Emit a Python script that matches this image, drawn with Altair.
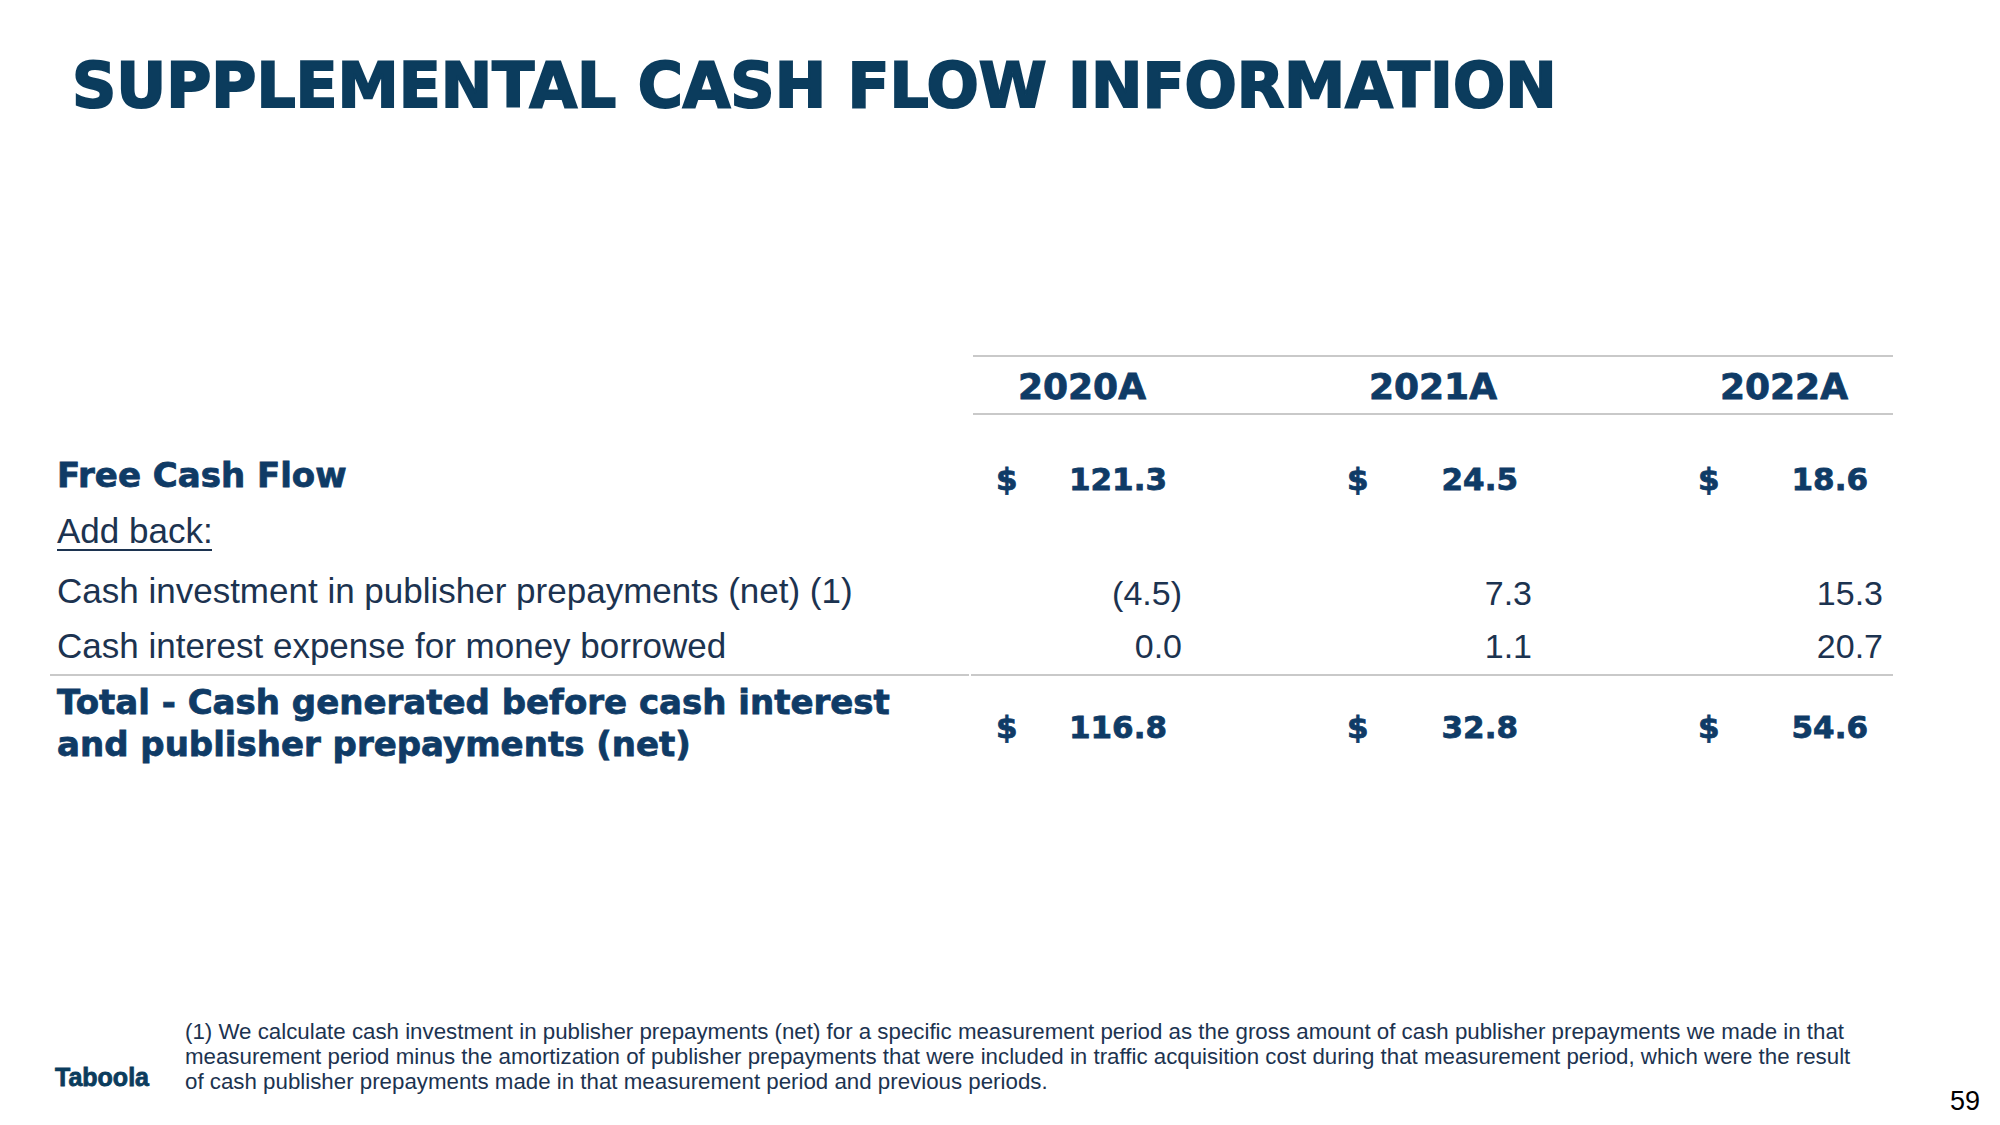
import altair as alt
import pandas as pd

# ---------------- data ----------------
title_text = "SUPPLEMENTAL CASH FLOW INFORMATION"
years = ["2020A", "2021A", "2022A"]
free_cash_flow = [121.3, 24.5, 18.6]
prepayments_net = [-4.5, 7.3, 15.3]
interest_expense = [0.0, 1.1, 20.7]
total_cash = [116.8, 32.8, 54.6]

label_fcf = "Free Cash Flow"
label_addback = "Add back:"
label_prepay = "Cash investment in publisher prepayments (net) (1)"
label_interest = "Cash interest expense for money borrowed"
label_total = ["Total - Cash generated before cash interest",
               "and publisher prepayments (net)"]

footnote_lines = [
    "(1) We calculate cash investment in publisher prepayments (net) for a specific measurement period as the gross amount of cash publisher prepayments we made in that",
    "measurement period minus the amortization of publisher prepayments that were included in traffic acquisition cost during that measurement period, which were the result",
    "of cash publisher prepayments made in that measurement period and previous periods.",
]
logo_text = "Taboola"
page_number = "59"

# ---------------- layout (page pixels) ----------------
W, H = 1984, 1109
XS = alt.Scale(domain=[8, 8 + W], range=[0, W])
YS = alt.Scale(domain=[8, 8 + H], range=[0, H])

TITLE_C = "#0b3c5d"
BOLD_C = "#0f3b66"
REG_C = "#1c3350"
RULE_C = "#c9c9c9"

LABEL_X = 57
header_cx = [1082, 1433, 1784]
dollar_x = [996, 1347, 1698]
value_rx = [1167, 1518, 1868]
reg_rx = [1182, 1532, 1883]

Y_HEADER = 399
Y_FCF = 490
Y_ADD = 543
Y_PREPAY = 605
Y_INTEREST = 658
Y_TOTAL1 = 714
Y_TOTAL2 = 756
Y_TOTALV = 738


def fmt(v):
    return f"({abs(v):.1f})" if v < 0 else f"{v:.1f}"


def text_layer(df, font, size, weight, color, align="left", stroke_w=0):
    kw = dict(font=font, fontSize=size, fontWeight=weight, color=color,
              align=align, baseline="alphabetic")
    if stroke_w > 0:
        kw.update(stroke=color, strokeWidth=stroke_w)
    return alt.Chart(df).mark_text(**kw).encode(
        x=alt.X("x:Q", scale=XS, axis=None),
        y=alt.Y("y:Q", scale=YS, axis=None),
        text="t:N",
    )


title_df = pd.DataFrame({"t": [title_text], "x": [72], "y": [107]})

bold_labels = pd.DataFrame({
    "t": [label_fcf] + label_total,
    "x": [LABEL_X] * 3,
    "y": [Y_FCF - 3, Y_TOTAL1, Y_TOTAL2],
})
reg_labels = pd.DataFrame({
    "t": [label_addback, label_prepay, label_interest],
    "x": [LABEL_X] * 3,
    "y": [Y_ADD, Y_PREPAY - 2, Y_INTEREST],
})

header_df = pd.DataFrame({"t": years, "x": header_cx, "y": [Y_HEADER] * 3})

dollar_df = pd.DataFrame({
    "t": ["$"] * 6,
    "x": dollar_x * 2,
    "y": [Y_FCF] * 3 + [Y_TOTALV] * 3,
})
bold_vals = pd.DataFrame({
    "t": [fmt(v) for v in free_cash_flow] + [fmt(v) for v in total_cash],
    "x": value_rx * 2,
    "y": [Y_FCF] * 3 + [Y_TOTALV] * 3,
})
reg_vals = pd.DataFrame({
    "t": [fmt(v) for v in prepayments_net] + [fmt(v) for v in interest_expense],
    "x": reg_rx * 2,
    "y": [Y_PREPAY] * 3 + [Y_INTEREST] * 3,
})

foot_df = pd.DataFrame({
    "t": footnote_lines,
    "x": [185] * 3,
    "y": [1039, 1064, 1089],
})
logo_df = pd.DataFrame({"t": [logo_text], "x": [55], "y": [1086]})
page_df = pd.DataFrame({"t": [page_number], "x": [1980], "y": [1110]})

rules_df = pd.DataFrame({
    "x": [973, 973, 50, 971],
    "x2": [1893, 1893, 969, 1893],
    "y": [356, 414, 675, 675],
})
underline_df = pd.DataFrame({"x": [57], "x2": [212], "y": [550]})

rules = alt.Chart(rules_df).mark_rule(color=RULE_C, strokeWidth=2).encode(
    x=alt.X("x:Q", scale=XS, axis=None),
    x2="x2:Q",
    y=alt.Y("y:Q", scale=YS, axis=None),
)
underline = alt.Chart(underline_df).mark_rule(color=REG_C, strokeWidth=2).encode(
    x=alt.X("x:Q", scale=XS, axis=None),
    x2="x2:Q",
    y=alt.Y("y:Q", scale=YS, axis=None),
)

BOLD_FONT = "DejaVu Sans"
REG_FONT = "Liberation Sans"

chart = alt.layer(
    rules,
    underline,
    text_layer(title_df, BOLD_FONT, 61.5, "bold", TITLE_C, stroke_w=2),
    text_layer(bold_labels, BOLD_FONT, 34, "bold", BOLD_C, stroke_w=0.8),
    text_layer(reg_labels, REG_FONT, 35, "normal", REG_C),
    text_layer(header_df, BOLD_FONT, 36, "bold", BOLD_C, "center", stroke_w=0.8),
    text_layer(dollar_df, BOLD_FONT, 31, "bold", BOLD_C, stroke_w=0.8),
    text_layer(bold_vals, BOLD_FONT, 31, "bold", BOLD_C, "right", stroke_w=0.8),
    text_layer(reg_vals, REG_FONT, 34, "normal", REG_C, "right"),
    text_layer(foot_df, REG_FONT, 22.3, "normal", REG_C),
    text_layer(logo_df, REG_FONT, 25, "bold", TITLE_C, stroke_w=0.8),
    text_layer(page_df, REG_FONT, 27, "normal", "#000000", "right"),
).properties(
    width=W, height=H,
    autosize=alt.AutoSizeParams(type="none"),
    padding=0,
    background="white",
).configure_view(stroke=None)

chart.save("out.html", embed_options={"renderer": "svg", "actions": False})
